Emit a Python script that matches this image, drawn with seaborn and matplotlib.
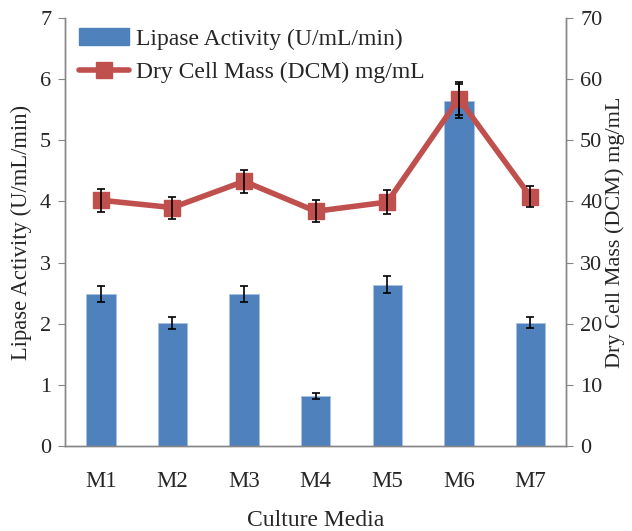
import matplotlib
matplotlib.use("Agg")
import matplotlib.pyplot as plt
import seaborn as sns
import numpy as np
import pandas as pd
from matplotlib.ticker import FixedLocator, MultipleLocator
from matplotlib.lines import Line2D
from matplotlib.patches import Patch

media = ["M1", "M2", "M3", "M4", "M5", "M6", "M7"]
lipase = [2.48, 2.01, 2.48, 0.82, 2.64, 5.64, 2.02]
lipase_err = [0.13, 0.10, 0.13, 0.045, 0.14, 0.28, 0.09]
dcm = [40.2, 39.0, 43.3, 38.4, 39.9, 56.8, 40.8]
dcm_err = [1.9, 1.8, 1.9, 1.8, 2.0, 2.7, 1.7]

sns.set_style("white")
plt.rcParams["font.family"] = ["Liberation Serif", "DejaVu Serif"]

bar_color = "#4F81BD"
line_color = "#C0504D"
spine_color = "#868686"

df = pd.DataFrame({"media": media, "lipase": lipase, "dcm": dcm})

fig = plt.figure(figsize=(6.32, 5.31), dpi=100)
ax = fig.add_axes([0.103, 0.160, 0.793, 0.806])

sns.barplot(data=df, x="media", y="lipase", color=bar_color, width=0.41,
            saturation=1, ax=ax, errorbar=None, edgecolor="#A9C1E0", linewidth=0.6)
ax.errorbar(np.arange(len(media)), lipase, yerr=lipase_err, fmt="none",
            ecolor="black", elinewidth=1.2, capsize=3, capthick=1.2, zorder=5)

ax2 = ax.twinx()
ax2.plot(np.arange(len(media)), dcm, color=line_color, lw=4, marker="s",
         markersize=12, zorder=4)
ax2.errorbar(np.arange(len(media)), dcm, yerr=dcm_err, fmt="none",
             ecolor="black", elinewidth=1.2, capsize=3, capthick=1.2, zorder=6)

ax.set_xlim(-0.5, 6.5)
ax.set_ylim(0, 7)
ax2.set_ylim(0, 70)
ax.yaxis.set_major_locator(MultipleLocator(1))
ax2.yaxis.set_major_locator(MultipleLocator(10))

ax.set_xlabel("Culture Media", fontsize=17, labelpad=13)
ax.set_ylabel("Lipase Activity (U/mL/min)", fontsize=16.3, labelpad=6)
ax2.set_ylabel("Dry Cell Mass (DCM) mg/mL", fontsize=16, labelpad=2)

ax.tick_params(axis="x", which="major", length=0, labelsize=16.5, pad=18)
ax.xaxis.set_minor_locator(FixedLocator(np.arange(-0.5, 7.0, 1.0)))
ax.tick_params(axis="x", which="minor", length=6, color=spine_color, direction="out")
ax.tick_params(axis="y", labelsize=16, length=5, color=spine_color, direction="out", left=True, pad=5)
ax2.tick_params(axis="y", labelsize=16, length=5, color=spine_color, direction="out", right=True, pad=5)

for a in (ax, ax2):
    a.spines["top"].set_visible(False)
    for s in ("left", "right", "bottom"):
        a.spines[s].set_color(spine_color)
        a.spines[s].set_linewidth(1.0)

handles = [Patch(facecolor=bar_color, edgecolor=bar_color),
           Line2D([0], [0], color=line_color, lw=4, marker="s", markersize=12)]
labels = ["Lipase Activity (U/mL/min)", "Dry Cell Mass (DCM) mg/mL"]
ax.legend(handles, labels, loc="upper left", bbox_to_anchor=(-0.005, 1.015),
          frameon=False, fontsize=17, handlelength=2.1, borderaxespad=0.3,
          labelspacing=0.5, handletextpad=0.3)

fig.savefig("out.png", dpi=100)
